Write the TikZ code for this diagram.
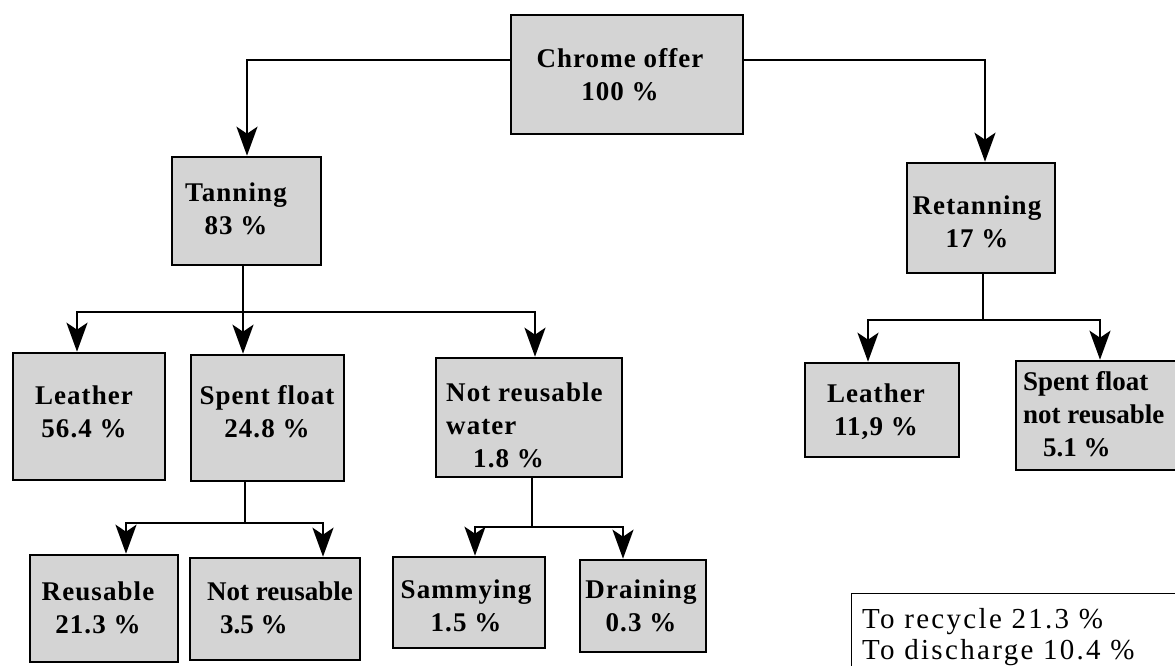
\documentclass[tikz,border=0pt]{standalone}
\usepackage{fontspec}
\setmainfont{Liberation Serif}
\newfontfamily\boxfont{Liberation Serif}[LetterSpace=4]
\newfontfamily\boxfonttight{Liberation Serif}[LetterSpace=0]
\newfontfamily\legfont{Liberation Serif}[LetterSpace=8]
\usetikzlibrary{arrows.meta}
\definecolor{boxgray}{RGB}{212,212,212}
\tikzset{
  box/.style={draw, line width=2.6pt, fill=boxgray, inner sep=0pt},
  btxt/.style={inner sep=0pt, align=center, font=\boxfont\bfseries\fontsize{27}{33}\selectfont},
  btxtl/.style={btxt, align=left, anchor=west},
  btxtt/.style={btxtl, font=\boxfonttight\bfseries\fontsize{27}{33}\selectfont},
  conn/.style={line width=2.5pt, -{Stealth[length=29pt,width=21pt,inset=7pt]}},
  plain/.style={line width=2.5pt},
  legendbox/.style={draw, line width=0.9pt, fill=white, inner sep=0pt},
  legtxt/.style={inner sep=0pt, align=left, anchor=west, font=\legfont\fontsize{29}{31}\selectfont}
}
\begin{document}
\begin{tikzpicture}[x=1pt,y=-1pt]
\useasboundingbox (0,0) rectangle (1175,666);

% boxes
\node[box, minimum width=232pt, minimum height=119pt] (chrome) at (627,74.5) {};
\node[box, minimum width=149pt, minimum height=108pt] (tanning) at (246.5,211) {};
\node[box, minimum width=148pt, minimum height=110pt] (retanning) at (981,218) {};
\node[box, minimum width=152pt, minimum height=127pt] (leather1) at (89,416.5) {};
\node[box, minimum width=153pt, minimum height=126pt] (spent) at (267.5,418) {};
\node[box, minimum width=186pt, minimum height=119pt] (nrw) at (529,417.5) {};
\node[box, minimum width=154pt, minimum height=94pt] (leather2) at (882,410) {};
\node[box, minimum width=160pt, minimum height=109pt] (sfnr) at (1096,415.5) {};
\node[box, minimum width=148pt, minimum height=107pt] (reusable) at (104,608.5) {};
\node[box, minimum width=170pt, minimum height=102pt] (notreus) at (275,609) {};
\node[box, minimum width=152pt, minimum height=91pt] (samm) at (469,602.5) {};
\node[box, minimum width=126pt, minimum height=92pt] (drain) at (643,606) {};
\node[legendbox, minimum width=340pt, minimum height=100pt, anchor=north west] (legend) at (851,593) {};

% texts
\node[btxt] (chrometxt) at (620,75) {Chrome offer\\100 \%};
\node[btxt] (tanningtxt) at (236,209) {Tanning\\83 \%};
\node[btxt] (retanningtxt) at (977,222) {Retanning\\17 \%};
\node[btxt] (leather1txt) at (84,412) {Leather\\56.4 \%};
\node[btxt] (spenttxt) at (267,412) {Spent float\\24.8 \%};
\node[btxtl] (nrwtxt) at (446,425) {Not reusable\\water\\\hspace*{27pt}1.8 \%};
\node[btxt] (leather2txt) at (876,412) {Leather\\11,9 \%};
\node[btxtt] (sfnrtxt) at (1023,414) {Spent float\\not reusable\\\hspace*{20pt}5.1 \%};
\node[btxt] (reusabletxt) at (98,608) {Reusable\\21.3 \%};
\node[btxtt] (notreustxt) at (207,608) {Not reusable\\\hspace*{13pt}3.5 \%};
\node[btxt] (sammtxt) at (466,606) {Sammying\\1.5 \%};
\node[btxt] (draintxt) at (641,606) {Draining\\0.3 \%};
\node[legtxt] (legendtxt) at (862,637) {To recycle 21.3 \%\\To discharge 10.4 \%};

% junctions
\coordinate (tj) at (243,312);
\coordinate (sj) at (245,523);
\coordinate (nj) at (532,527);
\coordinate (rj) at (983,320);

% connectors
\draw[conn] ([yshift=14.5pt]chrome.west) -| ([xshift=0.5pt]tanning.north);
\draw[conn] ([yshift=14.5pt]chrome.east) -| ([xshift=4pt]retanning.north);

\draw[plain] ([xshift=-3.5pt]tanning.south) -- (tj);
\draw[conn] (tj) -| ([xshift=-12pt]leather1.north);
\draw[conn] (tj) -- (spent.north -| tj);
\draw[conn] (tj) -| ([xshift=6pt]nrw.north);

\draw[plain] ([xshift=-22.5pt]spent.south) -- (sj);
\draw[conn] (sj) -| ([xshift=22pt]reusable.north);
\draw[conn] (sj) -| ([xshift=48pt]notreus.north);

\draw[plain] ([xshift=3pt]nrw.south) -- (nj);
\draw[conn] (nj) -| ([xshift=6pt]samm.north);
\draw[conn] (nj) -| ([xshift=-20pt]drain.north);

\draw[plain] ([xshift=2pt]retanning.south) -- (rj);
\draw[conn] (rj) -| ([xshift=-14pt]leather2.north);
\draw[conn] (rj) -| ([xshift=4pt]sfnr.north);
\end{tikzpicture}
\end{document}
